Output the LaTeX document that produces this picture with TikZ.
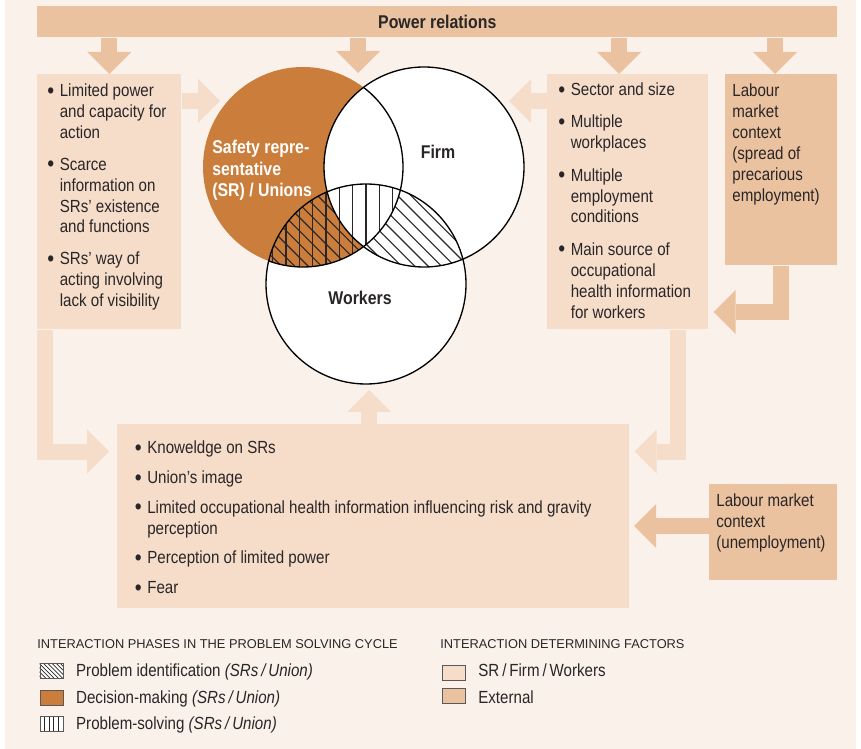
\documentclass[tikz,border=0pt]{standalone}
\usepackage{fontspec}
\setmainfont{Liberation Sans}[FakeStretch=0.86]
\newfontfamily\headfont{Liberation Sans}
\usetikzlibrary{arrows.meta,positioning}

\definecolor{bgcream}{HTML}{FAF1EB}
\definecolor{inpeach}{HTML}{F5DDCA}
\definecolor{extan}{HTML}{EBC29F}
\definecolor{sorange}{HTML}{CB7D3B}
\definecolor{inkgrey}{HTML}{2A2627}

\tikzset{
  inbox/.style={fill=inpeach, inner sep=0pt, anchor=north west},
  exbox/.style={fill=extan, inner sep=0pt, anchor=north west},
  txt/.style={inner sep=0pt, anchor=north west, align=left, text=inkgrey,
    font=\fontsize{10}{11.9}\selectfont},
  inflow/.style={draw=inpeach, line width=0.32cm, line join=miter,
    -{Triangle[length=0.44cm,width=0.88cm,line width=0pt]}},
  exflow/.style={inflow, draw=extan},
  hatch/.style={draw=inkgrey, line width=0.65pt},
  ring/.style={draw=black, line width=0.75pt},
  swatch/.style={draw=gray!70!black, line width=0.4pt, minimum width=0.46cm,
    minimum height=0.3cm, inner sep=0pt},
  vlabel/.style={inner sep=0pt, font=\bfseries\fontsize{10.5}{12.3}\selectfont}
}
\newcommand{\bul}{\makebox[7.1pt][l]{\raisebox{-0.9pt}{\scalebox{1.3}{\textbullet}}}}
\newcommand{\ind}{\hspace*{7.1pt}}

\begin{document}
\begin{tikzpicture}[x=0.02cm, y=-0.02cm]
\useasboundingbox (0,0) rectangle (861,749);
\fill[white] (0,0) rectangle (861,749);
\fill[bgcream] (5,0) rectangle (856,749);

\node[exbox, minimum width=16cm, minimum height=0.62cm, text=inkgrey,
  font=\bfseries\fontsize{10.5}{12}\selectfont] (power) at (37,6) {Power relations};
\node[inbox, minimum width=2.88cm, minimum height=5.1cm] (lbox) at (37,74) {};
\node[inbox, minimum width=3.22cm, minimum height=5.1cm] (rbox) at (547,74) {};
\node[exbox, minimum width=2.24cm, minimum height=3.82cm] (lmbox) at (725,74) {};
\node[inbox, minimum width=10.24cm, minimum height=3.68cm] (bbox) at (117,424) {};
\node[exbox, minimum width=2.56cm, minimum height=1.92cm] (ubox) at (709,484) {};

\node[txt, below right=0.19cm and 0.2cm of lbox.north west] (ltext)
  {\bul Limited power\\\ind and capacity for\\\ind action\\[6.2pt]
   \bul Scarce\\\ind information on\\\ind SRs' existence\\\ind and functions\\[6.2pt]
   \bul SRs' way of\\\ind acting involving\\\ind lack of visibility};
\node[txt, below right=0.17cm and 0.22cm of rbox.north west] (rtext)
  {\bul Sector and size\\[6.5pt]
   \bul Multiple\\\ind workplaces\\[6.5pt]
   \bul Multiple\\\ind employment\\\ind conditions\\[6.5pt]
   \bul Main source of\\\ind occupational\\\ind health information\\\ind for workers};
\node[txt, below right=0.19cm and 0.14cm of lmbox.north west] (lmtext)
  {Labour\\market\\context\\(spread of\\precarious\\employment)};
\node[txt, below right=0.338cm and 0.35cm of bbox.north west] (btext)
  {\bul Knoweldge on SRs\\[5pt]
   \bul Union's image\\[5pt]
   \bul Limited occupational health information influencing risk and gravity\\\ind perception\\[5pt]
   \bul Perception of limited power\\[5pt]
   \bul Fear};
\node[txt, below right=0.19cm and 0.14cm of ubox.north west] (utext)
  {Labour market\\context\\(unemployment)};

\coordinate (venntop) at (358,73);
\coordinate (rtop) at (619,74);
\coordinate (mtop) at (775,74);
\coordinate (srin) at (220,101);
\coordinate (fmin) at (509,101);
\coordinate (wkin) at (369,390);
\coordinate (lturn) at (45,451.5);
\coordinate (rturn) at (678,451.5);
\coordinate (lmturn) at (780.5,312);
\coordinate (ubin) at (634,526);

\draw[exflow] (power.south -| lbox.north) -- (lbox.north);
\draw[exflow] (power.south -| venntop) -- (venntop);
\draw[exflow] (power.south -| rtop) -- (rtop);
\draw[exflow] (power.south -| mtop) -- (mtop);
\draw[inflow] (lbox.east |- srin) -- (srin);
\draw[inflow] (rbox.west |- fmin) -- (fmin);
\draw[inflow] (bbox.north -| wkin) -- (wkin);
\draw[inflow, shorten >=0.16cm] (lbox.south -| lturn) -- (lturn) -- (bbox.west |- lturn);
\draw[inflow, shorten >=0.1cm] (rbox.south -| rturn) -- (rturn) -- (bbox.east |- rturn);
\draw[exflow, shorten >=0.1cm] (lmbox.south -| lmturn) -- (lmturn) -- (rbox.east |- lmturn);
\draw[exflow] (ubox.west |- ubin) -- (ubin);

\coordinate (sr) at (303,167);
\coordinate (fm) at (424,167);
\coordinate (wk) at (366,284);
\fill[white] (fm) circle[radius=100];
\fill[white] (wk) circle[radius=100];
\begin{scope}
  \clip (sr) circle[radius=100];
  \fill[sorange] (sr) circle[radius=100];
  \fill[white] (fm) circle[radius=100];
\end{scope}
\begin{scope}
  \clip (wk) circle[radius=100];
  \clip (sr) circle[radius=100] (fm) circle[radius=100];
  \foreach \k in {-25,...,25} \draw[hatch] (366+13.33*\k-150,134) -- ++(300,300);
\end{scope}
\begin{scope}
  \clip (wk) circle[radius=100];
  \clip (sr) circle[radius=100];
  \clip (fm) circle[radius=100];
  \fill[white] (wk) circle[radius=100];
\end{scope}
\begin{scope}
  \clip (sr) circle[radius=100];
  \clip (wk) circle[radius=100];
  \foreach \k in {-9,...,4} \draw[hatch] (366+13.33*\k,150) -- ++(0,150);
\end{scope}
\begin{scope}
  \clip (fm) circle[radius=100] (wk) circle[radius=100];
  \draw[ring] (sr) circle[radius=100];
\end{scope}
\draw[ring] (fm) circle[radius=100];
\draw[ring] (wk) circle[radius=100];

\node[vlabel, text=white, align=left, anchor=north west] (srlabel) at (212,140)
  {Safety repre-\\sentative\\(SR) / Unions};
\node[vlabel, text=inkgrey] (fmlabel) at (438,152) {Firm};
\node[vlabel, text=inkgrey] (wklabel) at (360,298) {Workers};

\node[inner sep=0pt, anchor=base west, text=inkgrey, font=\headfont\fontsize{7.3}{9}\selectfont]
  (phasehead) at (37,648) {INTERACTION PHASES IN THE PROBLEM SOLVING CYCLE};
\node[inner sep=0pt, anchor=base west, text=inkgrey, font=\headfont\fontsize{7.3}{9}\selectfont]
  (factorhead) at (440,648) {INTERACTION DETERMINING FACTORS};

\node[swatch, fill=white] (swid) at (51.5,671) {};
\begin{scope}
  \clip (swid.south west) rectangle (swid.north east);
  \foreach \k in {-4,...,6} \draw[draw=inkgrey, line width=0.4pt] (36+4.2*\k,660) -- ++(20,20);
\end{scope}
\node[swatch] at (swid) {};
\node[swatch, fill=sorange] (swdm) at (51.5,697.5) {};
\node[swatch, fill=white] (swps) at (51.5,724) {};
\begin{scope}
  \clip (swps.south west) rectangle (swps.north east);
  \foreach \k in {1,...,4} \draw[draw=inkgrey, line width=0.4pt] (40+4.6*\k,710) -- ++(0,30);
\end{scope}
\node[swatch] at (swps) {};
\node[swatch, fill=inpeach] (swin) at (453.5,672.5) {};
\node[swatch, fill=extan] (swex) at (453.5,696) {};

\node[txt, anchor=base west] (idtext) at (75.8,676) {Problem identification \textit{(SRs\,/\,Union)}};
\node[txt, anchor=base west] (dmtext) at (75.8,703) {Decision-making \textit{(SRs\,/\,Union)}};
\node[txt, anchor=base west] (pstext) at (75.8,729) {Problem-solving \textit{(SRs\,/\,Union)}};
\node[txt, anchor=base west] (intext) at (478,676) {SR\,/\,Firm\,/\,Workers};
\node[txt, anchor=base west] (extext) at (478,703) {External};
\end{tikzpicture}
\end{document}
